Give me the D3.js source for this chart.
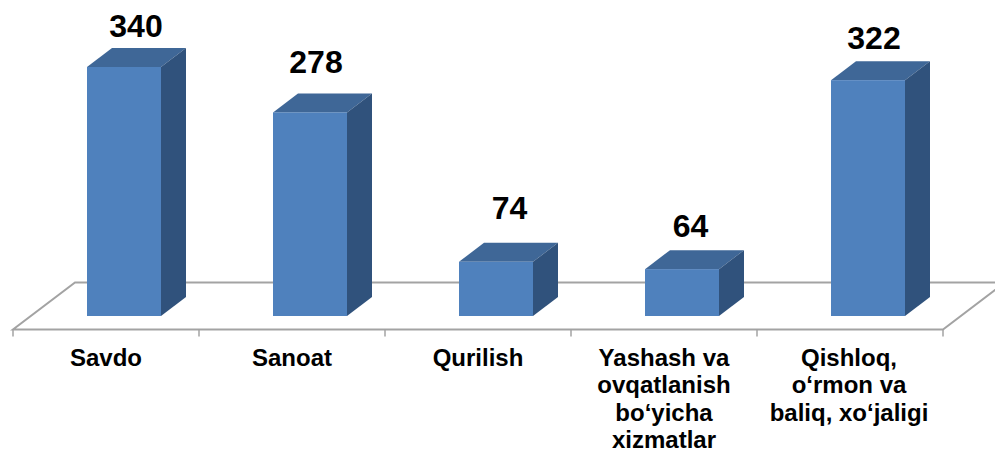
<!DOCTYPE html>
<html><head><meta charset="utf-8">
<script src="https://cdn.jsdelivr.net/npm/d3@7/dist/d3.min.js"></script>
<style>html,body{margin:0;padding:0;background:#fff;overflow:hidden}svg{display:block}text{font-family:"Liberation Sans",Arial,sans-serif;font-weight:bold;fill:#000}</style>
</head><body><svg id="c" width="995" height="450"></svg>
<script>
const categories = ["Savdo","Sanoat","Qurilish","Yashash va ovqatlanish bo‘yicha xizmatlar","Qishloq, o‘rmon va baliq, xo‘jaligi"];
const categoryLines = [["Savdo"],["Sanoat"],["Qurilish"],["Yashash va","ovqatlanish","bo‘yicha","xizmatlar"],["Qishloq,","o‘rmon va","baliq, xo‘jaligi"]];
const values = [340,278,74,64,322];

const svg = d3.select("#c");
const floorY = 329.5, baseY = 316, barW = 74, dx = 25, dy = 19, planeDx = 62, planeDy = 47;
const x = d3.scaleBand().domain(categories).range([13,943]);
const y = d3.scaleLinear().domain([0,340]).range([baseY,67]);
const barX = c => x(c) + 74;
const gray = "#a3a3a3";

// floor
svg.append("path").attr("fill","none").attr("stroke",gray).attr("stroke-width",2)
  .attr("d",d3.line()([[995,floorY-planeDy],[13+planeDx,floorY-planeDy],[13,floorY],[943,floorY],[943+planeDx,floorY-planeDy]]));
// ticks
const ticks = categories.map(c=>x(c)).concat([943]);
svg.selectAll("line.t").data(ticks).join("line").attr("class","t")
  .attr("x1",d=>d).attr("x2",d=>d).attr("y1",floorY).attr("y2",floorY+7)
  .attr("stroke",gray).attr("stroke-width",1.5);

// bars
const g = svg.selectAll("g.b").data(categories.map((c,i)=>({c,v:values[i]}))).join("g").attr("class","b");
g.append("path").attr("fill","#3f6797").attr("d",d=>{const X=barX(d.c),Y=y(d.v);
  return d3.line()([[X,Y],[X+dx,Y-dy],[X+barW+dx,Y-dy],[X+barW,Y]])+"Z";});
g.append("path").attr("fill","#30527c").attr("d",d=>{const X=barX(d.c)+barW,Y=y(d.v);
  return d3.line()([[X,Y],[X+dx,Y-dy],[X+dx,baseY-dy],[X,baseY]])+"Z";});
g.append("rect").attr("fill","#4f81bd").attr("x",d=>barX(d.c)).attr("y",d=>y(d.v))
  .attr("width",barW).attr("height",d=>baseY-y(d.v));

// value labels
const labelGap = [30,39,42.5,32,31];
const labelShift = [0,-6,1.5,-3.5,-6];
g.append("text").attr("text-anchor","middle").attr("font-size",32)
  .attr("x",(d,i)=>barX(d.c)+barW/2+12+labelShift[i]).attr("y",(d,i)=>y(d.v)-labelGap[i]).text(d=>d.v);

// category labels
const t = svg.selectAll("text.cat").data(categories).join("text").attr("class","cat")
  .attr("text-anchor","middle").attr("font-size",24);
t.each(function(c,i){
  d3.select(this).selectAll("tspan").data(categoryLines[i]).join("tspan")
    .attr("x",x(c)+x.bandwidth()/2-(i==4?1:0)).attr("y",(d,j)=>366+j*27.3).text(d=>d);
});
</script></body></html>
